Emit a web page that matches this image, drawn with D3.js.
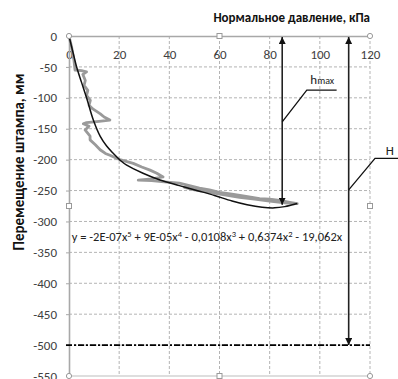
<!DOCTYPE html>
<html><head><meta charset="utf-8">
<script src="https://cdn.jsdelivr.net/npm/d3@7"></script>
<style>
html,body{margin:0;padding:0;background:#fff;}
svg{display:block;font-family:Carlito,Calibri,Lato,"Open Sans",sans-serif;}
</style></head>
<body>
<svg id="c" width="398" height="379"></svg>
<script>
// ---- data ----
const xTicks = [0, 20, 40, 60, 80, 100, 120];
const yTicks = [0, -50, -100, -150, -200, -250, -300, -350, -400, -450, -500, -550];
const measuredX = [0,1,2,2.4,5,7,5.5,6.5,6,7.5,7,8.5,8,9.5,11,12.5,14,16.3,12,7,5.7,8,6.4,8.4,8.4,10.5,12.4,14.5,16.3,20.3,25.6,29,32.3,35,37.5,33,27.6,33,38,44,48,52,56,60,65,70,76,80,84,88,91,86,80,74,68,62,56,50,46,52,60,68,76,84,90];
const measuredY = [0,-17,-40,-55,-56,-58,-62,-72,-80,-88,-96,-104,-112,-118,-122,-126,-131,-136,-138,-140,-142,-146,-152,-162,-168,-176,-184,-190,-193,-200,-206,-212,-217,-222,-228,-231,-233,-234,-236,-238,-242,-246,-249,-253,-256,-259,-263,-264,-266,-269,-271,-270,-267,-264,-261,-257,-253,-249,-245,-248,-254,-259,-263,-268,-272];
const fitX = [0,1.5,3.1,5,7,9.7,12.4,15,17.7,21,23,29.5,36.3,44,52,58,65,71,77,82,86,91];
const fitY = [0,-25,-51,-75,-100,-136,-162,-178,-190,-203,-209,-222,-233,-242,-251,-258,-267,-273,-277,-278,-276,-271];
const hmaxArrow = {x: 85, y0: 0, y1: -273};
const HArrow = {x: 111.5, y0: 0, y1: -500};
const baseLevel = -500;
const hmaxLeaderX = [85, 94.8, 106.7], hmaxLeaderY = [-139, -87.4, -87.4];
const HLeaderX = [111.5, 122, 132], HLeaderY = [-249, -198, -198];
const xTitle = "Нормальное давление, кПа";
const yTitle = "Перемещение штампа, мм";

// ---- chart ----
const svg = d3.select("#c");
const x = d3.scaleLinear([0,120],[69,370]);
const y = d3.scaleLinear([0,-550],[36,376]);
const gridCol = "#b4b4b4";

// grid
svg.append("g").selectAll("line").data(xTicks.filter(d=>d>0)).join("line")
  .attr("x1",d=>x(d)).attr("x2",d=>x(d)).attr("y1",y(0)).attr("y2",y(-550))
  .attr("stroke",gridCol).attr("stroke-dasharray","3,2").attr("stroke-width",1);
svg.append("g").selectAll("line").data(yTicks.filter(d=>d<0 && d>-550)).join("line")
  .attr("x1",x(0)).attr("x2",x(120)).attr("y1",d=>y(d)).attr("y2",d=>y(d))
  .attr("stroke",gridCol).attr("stroke-dasharray","3,2").attr("stroke-width",1);
svg.append("line").attr("x1",x(0)).attr("x2",x(120)).attr("y1",y(-550)).attr("y2",y(-550))
  .attr("stroke","#bdbdbd").attr("stroke-width",1.2);

// axes
const ax = svg.append("g").attr("transform",`translate(0,${y(0)})`)
  .call(d3.axisBottom(x).tickValues(xTicks).tickSizeInner(0).tickSizeOuter(0).tickPadding(14).tickFormat(d3.format("d")));
const ay = svg.append("g").attr("transform",`translate(${x(0)},0)`)
  .call(d3.axisLeft(y).tickValues(yTicks).tickSizeInner(3).tickSizeOuter(0).tickPadding(9).tickFormat(d=>d===0?"0":"-"+Math.abs(d)));
[ax,ay].forEach(g=>{
  g.select(".domain").attr("stroke","#a8a8a8").attr("stroke-width",1.6);
  g.selectAll(".tick line").attr("stroke","#a8a8a8");
  g.selectAll("text").attr("font-family","Carlito,Calibri,Lato,sans-serif").attr("font-size",13).attr("fill","#404040");
});

// base level dash-dot
svg.append("line").attr("x1",x(-1.2)).attr("x2",x(120)).attr("y1",y(baseLevel)).attr("y2",y(baseLevel))
  .attr("stroke","#000").attr("stroke-width",1.6).attr("stroke-dasharray","6,2,2,2");

// measured curve
const measured = measuredX.map((d,i)=>[d,measuredY[i]]);
svg.append("path").datum(measured)
  .attr("d",d3.line().x(d=>x(d[0])).y(d=>y(d[1])))
  .attr("fill","none").attr("stroke","#9a9a9a").attr("stroke-width",2.8).attr("stroke-linejoin","round");
// fit curve
const fit = fitX.map((d,i)=>[d,fitY[i]]);
svg.append("path").datum(fit)
  .attr("d",d3.line().curve(d3.curveCatmullRom.alpha(0.5)).x(d=>x(d[0])).y(d=>y(d[1])))
  .attr("fill","none").attr("stroke","#111").attr("stroke-width",1.5);

// arrows
const defs = svg.append("defs");
defs.append("marker").attr("id","ah").attr("viewBox","0 0 10 10").attr("refX",10).attr("refY",5)
  .attr("markerWidth",7).attr("markerHeight",7).attr("markerUnits","userSpaceOnUse").attr("orient","auto-start-reverse")
  .append("path").attr("d","M0,0L10,5L0,10z").attr("fill","#111");
[hmaxArrow,HArrow].forEach(a=>{
  svg.append("line").attr("x1",x(a.x)).attr("x2",x(a.x)).attr("y1",y(a.y0)+1).attr("y2",y(a.y1))
    .attr("stroke","#222").attr("stroke-width",1.6)
    .attr("marker-start","url(#ah)").attr("marker-end","url(#ah)");
});
// leaders
[[hmaxLeaderX,hmaxLeaderY],[HLeaderX,HLeaderY]].forEach(([lx,ly])=>{
  svg.append("path").datum(lx.map((d,i)=>[d,ly[i]]))
    .attr("d",d3.line().x(d=>x(d[0])).y(d=>y(d[1])))
    .attr("fill","none").attr("stroke","#111").attr("stroke-width",1.3);
});
const hl = svg.append("text").attr("x",x(96.2)).attr("y",y(-78)).attr("font-size",13).attr("fill","#222");
hl.append("tspan").text("h");
hl.append("tspan").attr("font-size",10).text("max");
svg.append("text").attr("x",x(126.3)).attr("y",y(-192.5)).attr("font-size",13).attr("fill","#222").text("H");

// equation
const eq = svg.append("text").attr("x",x(1.1)).attr("y",y(-331)).attr("font-size",12.5).attr("fill","#222");
const parts = [["y = -2E-07x",""],["5",1],[" + 9E-05x",""],["4",1],[" - 0,0108x",""],["3",1],[" + 0,6374x",""],["2",1],[" - 19,062x",""]];
parts.forEach(([t,sup])=>{
  const s = eq.append("tspan").text(t);
  if(sup){ s.attr("font-size",8.5).attr("dy",-4); }
  else if(t!==parts[0][0]) s.attr("dy",4);
});

// titles
svg.append("text").attr("x",370).attr("y",22).attr("text-anchor","end").attr("font-weight","bold")
  .attr("font-size",13).attr("fill","#111").text(xTitle);
svg.append("text").attr("transform","translate(24,162) rotate(-90)").attr("text-anchor","middle")
  .attr("font-weight","bold").attr("font-size",15).attr("fill","#111").text(yTitle);

// selection handles
const hx=[0,60,120], hy=[0,-275,-550];
hx.forEach((a,i)=>hy.forEach((b,j)=>{
  if(i===1&&j===1) return;
  const corner = (i!==1&&j!==1);
  if(corner) svg.append("circle").attr("cx",x(a)).attr("cy",y(b)).attr("r",2.6).attr("fill","#fff").attr("stroke","#999");
  else svg.append("rect").attr("x",x(a)-2.5).attr("y",y(b)-2.5).attr("width",5).attr("height",5).attr("fill","#fff").attr("stroke","#999");
}));
</script>
</body></html>
